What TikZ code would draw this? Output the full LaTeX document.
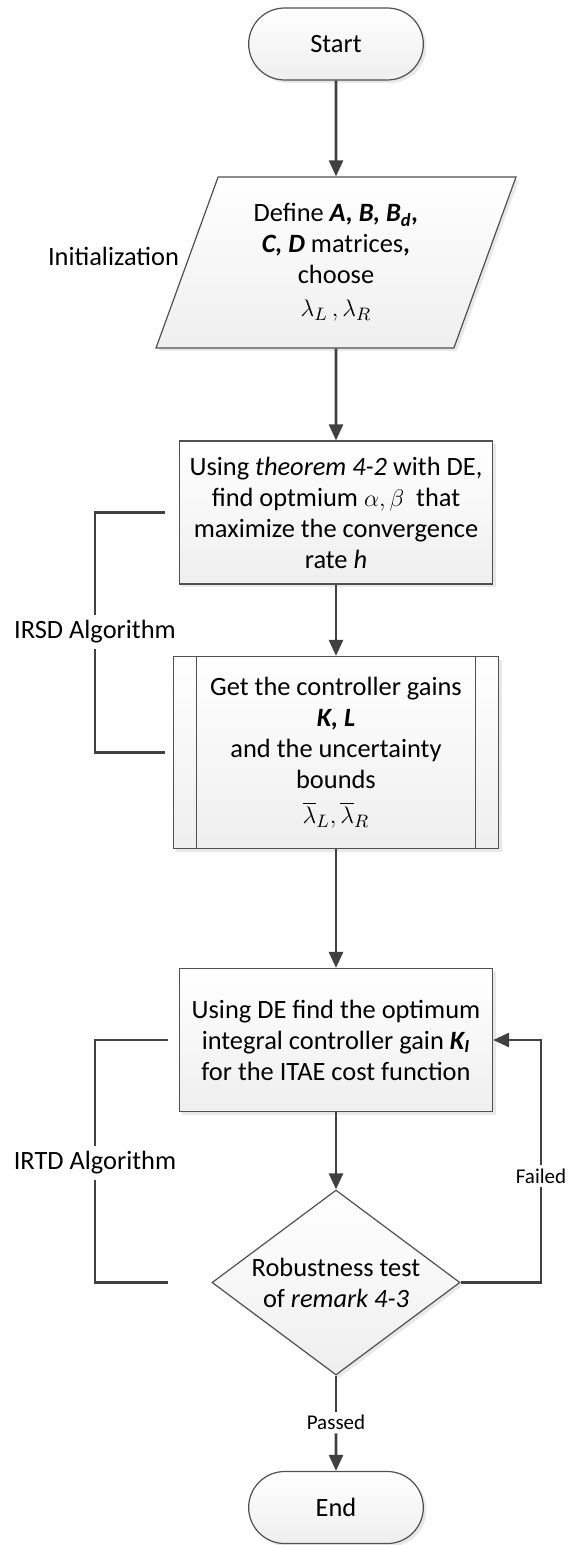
\documentclass[tikz,border=0pt]{standalone}
\usepackage{fontspec}
\setmainfont{Carlito}
\usetikzlibrary{shapes.geometric,shapes.misc,arrows.meta,shadows,positioning}
\definecolor{linegray}{HTML}{505050}
\definecolor{flowgray}{HTML}{404040}

\begin{document}
\begin{tikzpicture}[node distance=120pt, >={Triangle[length=8pt,width=7pt]},
  shape box/.style={draw=linegray, line width=0.6pt, top color=white, bottom color=gray!13,
    drop shadow={shadow xshift=1.5pt, shadow yshift=-1.5pt, fill=black!18},
    align=center, font=\fontsize{13.2pt}{15.5pt}\selectfont},
  startstop/.style={shape box, rounded rectangle, minimum width=94pt, minimum height=36pt},
  inout/.style={shape box, trapezium, trapezium left angle=63, trapezium right angle=117,
    trapezium stretches body, minimum width=180pt, minimum height=85.5pt, inner sep=1pt},
  proc/.style={shape box, rectangle, minimum width=156.5pt, minimum height=71.5pt},
  predef/.style={shape box, rectangle, minimum width=162.5pt, minimum height=96pt},
  decision/.style={shape box, diamond, aspect=1.34, minimum width=124pt, minimum height=92.5pt, inner sep=1pt},
  note/.style={font=\fontsize{13.2pt}{15.5pt}\selectfont, inner sep=2.5pt},
  small/.style={font=\fontsize{10.5pt}{12.5pt}\selectfont, inner sep=1.5pt},
  flow/.style={draw=flowgray, line width=1.3pt}]
    \useasboundingbox (-168pt,22pt) rectangle (115.5pt,-750.5pt);
        \node[startstop] (start) {Start};
        \node[inout] (init) [below of=start, yshift=10.75pt] {Define \textbf{\textit{A, B, B\textsubscript{d},}}\\ \textbf{\textit{C, D}} matrices\textbf{,}\\ choose\\[1pt] $\lambda_L\,, \lambda_R$};
        \node[note] (initlbl) [left=1pt of init.west, yshift=3pt] {Initialization};
        \node[proc] (theo) [below of=init, yshift=-5pt] {Using \textit{theorem 4-2} with DE,\\ find optmium $\alpha, \beta$\ \ that\\ maximize the convergence\\ rate \textit{h}};
        \node[predef] (gains) [below of=theo] {Get the controller gains\\ \textbf{\textit{K, L}}\\ and the uncertainty\\ bounds\\[2pt] $\overline{\lambda}_L, \overline{\lambda}_R$};
        \draw[draw=linegray, line width=0.6pt] ([xshift=12pt]gains.north west) -- ([xshift=12pt]gains.south west);
        \draw[draw=linegray, line width=0.6pt] ([xshift=-12pt]gains.north east) -- ([xshift=-12pt]gains.south east);
        \node[proc] (itae) [below of=gains, yshift=-23.75pt] {Using DE find the optimum\\ integral controller gain \textbf{\textit{K\textsubscript{I}}}\\ for the ITAE cost function};
        \node[decision] (robust) [below of=itae, yshift=-1.25pt] {Robustness test\\ of \textit{remark 4-3}};
        \node[startstop] (end) [below of=robust, yshift=7.5pt] {End};
        \node[note] (irsd) at (-120.5pt,-294pt) {IRSD Algorithm};
        \node[note] (irtd) at (-120.5pt,-559.5pt) {IRTD Algorithm};
        \node[small] (failed) at (102.5pt,-566pt) {Failed};
        \node[small] (passed) [below of=robust, node distance=70pt] {Passed};
        % main flow
        \draw[->, flow] (start) -- (init);
        \draw[->, flow] (init) -- (theo);
        \draw[->, flow] (theo) -- (gains);
        \draw[->, flow] (gains) -- (itae);
        \draw[->, flow] (itae) -- (robust);
        \draw[flow] (robust) -- (passed);
        \draw[->, flow] (passed) -- (end);
        \draw[flow] (robust.east) -| (failed.south);
        \draw[->, flow] (failed.north) |- (itae.east);
        % brackets
        \coordinate (irsdtop) at ([xshift=-7pt]theo.west);
        \coordinate (irsdbot) at (irsdtop |- gains.west);
        \draw[flow] (irsdtop) -| (irsd.north);
        \draw[flow] (irsd.south) |- (irsdbot);
        \coordinate (irtdtop) at ([xshift=-5.5pt]itae.west);
        \coordinate (irtdbot) at (irtdtop |- robust.west);
        \draw[flow] (irtdtop) -| (irtd.north);
        \draw[flow] (irtd.south) |- (irtdbot);
    \end{tikzpicture}
\end{document}
